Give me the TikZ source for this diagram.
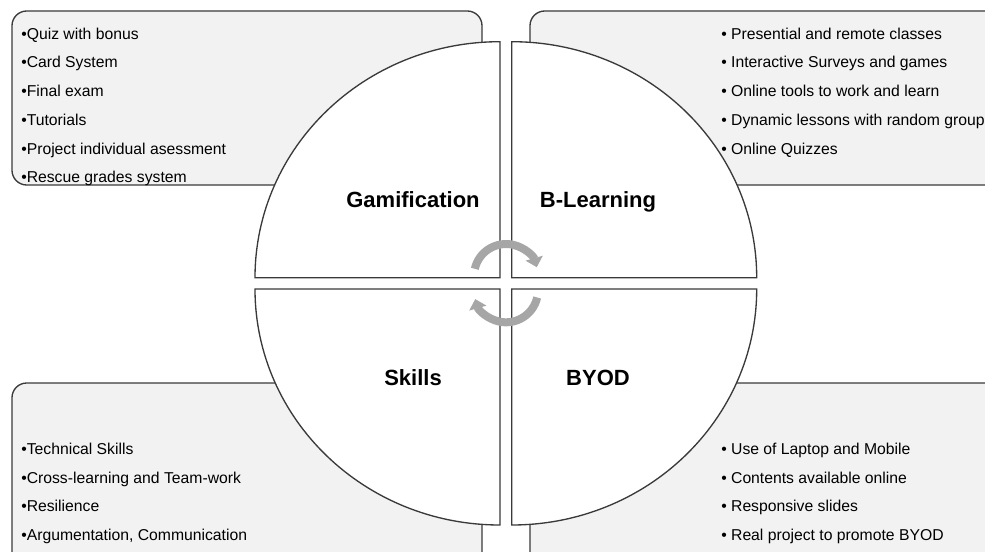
\documentclass[tikz,border=0pt]{standalone}
\usepackage{fontspec}
\setmainfont{Liberation Sans}
\usetikzlibrary{arrows.meta}
\definecolor{panelfill}{HTML}{F2F2F2}
\definecolor{edge}{HTML}{3A3A3A}
\definecolor{arrowgray}{HTML}{A6A6A6}
\tikzset{
  panel/.style={draw=edge,fill=panelfill,line width=1pt,rounded corners=11pt},
  quarter/.style={draw=edge,fill=white,line width=1pt},
  topic/.style={anchor=base,inner sep=0pt,font=\bfseries\fontsize{16.5}{20}\selectfont},
  item/.style={anchor=base west,inner sep=0pt,font=\fontsize{11.8}{14}\selectfont},
  cyclearrow/.style={draw=arrowgray,line width=6pt,-{Triangle[length=7pt,width=13pt]}}
}

\begin{document}
\begin{tikzpicture}[x=0.75pt,y=0.75pt]
\useasboundingbox (0,0) rectangle (985,551);
\clip (0,0) rectangle (985,551);
% corner panels
\draw[panel] (12,366) rectangle (482,540);
\draw[panel] (530,366) rectangle (1005,540);
\draw[panel] (12,-20) rectangle (482,168);
\draw[panel] (530,-20) rectangle (1005,168);
% split ellipse in the middle
\draw[quarter] (500,273.3) -- (255,273.3) arc[start angle=180,end angle=90,x radius=245,y radius=236] -- cycle;
\draw[quarter] (511.7,273.3) -- (511.7,509.3) arc[start angle=90,end angle=0,x radius=245,y radius=236] -- cycle;
\draw[quarter] (500,262) -- (255,262) arc[start angle=180,end angle=270,x radius=245,y radius=236] -- cycle;
\draw[quarter] (511.7,262) -- (511.7,26) arc[start angle=270,end angle=360,x radius=245,y radius=236] -- cycle;
\node[topic] (gamification) at (413,343.7) {Gamification};
\node[topic] (blearning) at (598,343.7) {B-Learning};
\node[topic] (skills) at (413,165.6) {Skills};
\node[topic] (byod) at (598,165.6) {BYOD};
% circular arrows (clockwise)
\draw[cyclearrow] (506,275) ++(167:32) arc[start angle=167,end angle=16,radius=32];
\draw[cyclearrow] (506,260.7) ++(-13:32) arc[start angle=-13,end angle=-164,radius=32];
% gamification list
\node[item] (gam1) at (21,511.7) {•Quiz with bonus};
\node[item] (gam2) at (21,483) {•Card System};
\node[item] (gam3) at (21,454.3) {•Final exam};
\node[item] (gam4) at (21,425.6) {•Tutorials};
\node[item] (gam5) at (21,396.9) {•Project individual asessment};
\node[item] (gam6) at (21,368.2) {•Rescue grades system};
% b-learning list
\node[item] (bl1) at (721,511.7) {• Presential and remote classes};
\node[item] (bl2) at (721,483) {• Interactive Surveys and games};
\node[item] (bl3) at (721,454.3) {• Online tools to work and learn};
\node[item] (bl4) at (721,425.6) {• Dynamic lessons with random groups};
\node[item] (bl5) at (721,396.9) {• Online Quizzes};
% skills list
\node[item] (sk1) at (21,96.5) {•Technical Skills};
\node[item] (sk2) at (21,68) {•Cross-learning and Team-work};
\node[item] (sk3) at (21,39.5) {•Resilience};
\node[item] (sk4) at (21,11) {•Argumentation, Communication};
% byod list
\node[item] (by1) at (721,96.5) {• Use of Laptop and Mobile};
\node[item] (by2) at (721,68) {• Contents available online};
\node[item] (by3) at (721,39.5) {• Responsive slides};
\node[item] (by4) at (721,11) {• Real project to promote BYOD};
\end{tikzpicture}
\end{document}
